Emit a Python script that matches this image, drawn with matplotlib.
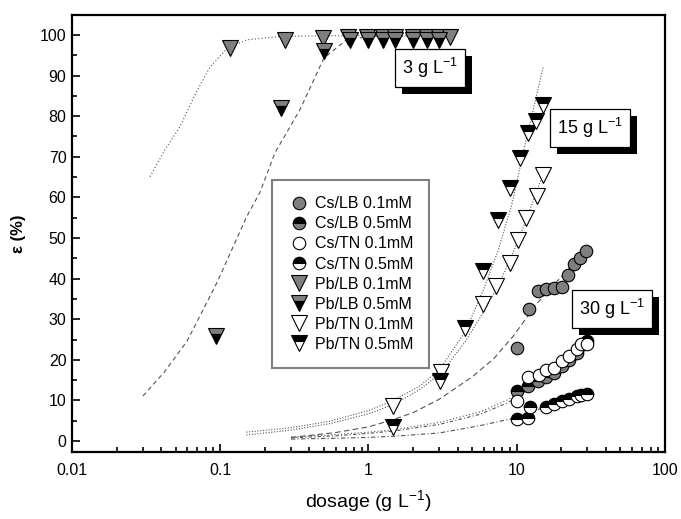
import matplotlib
matplotlib.use("Agg")
import matplotlib.pyplot as plt
import matplotlib.transforms as mtransforms
from matplotlib.patches import Rectangle
from matplotlib.lines import Line2D

plt.rcParams['font.family'] = ['Liberation Sans', 'DejaVu Sans']
plt.rcParams['mathtext.fontset'] = 'custom'
plt.rcParams['mathtext.rm'] = 'Liberation Sans'
plt.rcParams['mathtext.it'] = 'Liberation Sans:italic'
plt.rcParams['mathtext.bf'] = 'Liberation Sans:bold'

GRAY = '#7f7f7f'

# --- measured points -------------------------------------------------------
# Cs at 30 g/L
cs_lb_01_x = [10.0, 12.1, 13.9, 15.8, 17.9, 20.1, 22.3, 24.2, 26.8, 29.5]
cs_lb_01_y = [22.9, 32.6, 36.9, 37.5, 37.8, 38.0, 41.0, 43.5, 45.1, 46.8]
cs_lb_05_x = [10.0, 12.0, 14.0, 15.8, 17.9, 20.1, 22.5, 25.3, 27.3, 29.9]
cs_lb_05_y = [12.4, 13.6, 14.8, 15.8, 16.8, 18.6, 20.0, 21.8, 23.6, 24.6]
cs_tn_01_x = [10.0, 12.0, 14.2, 15.8, 17.9, 20.1, 22.5, 25.3, 27.3, 29.9]
cs_tn_01_y = [9.9, 15.9, 16.2, 17.5, 18.1, 19.7, 21.0, 22.6, 23.8, 23.8]
cs_tn_05_x = [10.0, 12.0, 12.2, 15.8, 17.9, 20.1, 22.5, 25.3, 27.3, 29.9]
cs_tn_05_y = [5.4, 5.8, 8.3, 8.3, 9.1, 9.9, 10.3, 11.1, 11.4, 11.6]

# Pb at 3 g/L
pb_lb_01_x = [0.116, 0.273, 0.49, 0.73, 0.98, 1.25, 1.5, 2.0, 2.5, 3.0, 3.55]
pb_lb_01_y = [96.8, 98.8, 99.3, 99.6, 99.6, 99.6, 99.6, 99.6, 99.6, 99.6, 99.6]
pb_lb_05_x = [0.094, 0.257, 0.50, 0.75, 1.0, 1.25, 1.5, 2.0, 2.5, 3.0]
pb_lb_05_y = [25.8, 82.1, 96.1, 98.8, 98.8, 98.8, 98.8, 98.8, 98.8, 98.8]

# Pb at 15 g/L
pb_tn_01_x = [1.46, 3.1, 5.9, 7.3, 8.98, 10.2, 11.6, 13.6, 15.1]
pb_tn_01_y = [8.7, 16.9, 33.7, 38.2, 43.9, 49.6, 55.0, 60.3, 65.6]
pb_tn_05_x = [1.47, 3.04, 4.48, 5.94, 7.5, 9.0, 10.5, 12.0, 13.5, 15.1]
pb_tn_05_y = [3.4, 14.8, 27.9, 41.8, 54.5, 62.3, 69.7, 75.8, 78.7, 82.8]

# --- fitted curves ---------------------------------------------------------
fit_pb_lb_01_x = [0.0336, 0.042, 0.0535, 0.068, 0.0853, 0.11, 0.151, 0.25, 0.5, 1.0, 3.6]
fit_pb_lb_01_y = [65.1, 71.5, 77.4, 85.5, 92.1, 96.5, 98.8, 99.6, 99.8, 99.8, 99.8]
fit_pb_lb_05_x = [0.0301, 0.042, 0.0597, 0.095, 0.151, 0.185, 0.234, 0.345, 0.50, 0.71, 1.0, 3.0]
fit_pb_lb_05_y = [11.1, 17.0, 24.6, 39.0, 55.3, 61.2, 71.0, 81.6, 94.3, 98.8, 99.6, 99.8]

fit_pb_tn_05_x = [0.15, 0.3, 0.55, 1.0, 1.47, 2.2, 3.0, 4.5, 6.0, 7.5, 9.2, 11.7, 15.1]
fit_pb_tn_05_y = [2.2, 3.3, 4.9, 7.5, 10.0, 13.5, 17.5, 27.0, 37.5, 47.0, 57.8, 75.0, 92.1]
fit_pb_tn_01_x = [0.15, 0.3, 0.55, 1.0, 1.47, 2.2, 3.1, 4.5, 5.9, 7.3, 9.0, 11.6, 15.1]
fit_pb_tn_01_y = [1.5, 2.7, 4.3, 6.7, 9.0, 12.6, 16.8, 24.5, 31.5, 37.5, 44.5, 54.5, 66.0]

fit_cs_lb_01_x = [0.3, 0.6, 1.0, 1.47, 2.0, 3.0, 5.0, 7.0, 9.5, 13.6, 20.0, 30.0]
fit_cs_lb_01_y = [0.9, 2.1, 3.5, 5.3, 7.0, 10.3, 15.8, 20.3, 25.9, 33.8, 40.5, 47.2]
fit_cs_tn_01_x = [0.3, 0.6, 1.0, 1.5, 3.0, 5.65, 8.5, 10.0, 15.0, 20.0, 30.0]
fit_cs_tn_01_y = [1.0, 1.6, 2.2, 2.8, 4.6, 7.2, 10.0, 11.4, 16.5, 19.8, 24.6]
fit_cs_lb_05_x = [0.3, 0.6, 1.0, 1.5, 3.0, 5.65, 8.5, 10.0, 15.0, 20.0, 30.0]
fit_cs_lb_05_y = [0.8, 1.3, 1.9, 2.5, 4.1, 6.6, 9.3, 10.6, 15.6, 19.2, 24.4]
fit_cs_tn_05_x = [0.3, 0.6, 1.0, 1.5, 3.0, 5.65, 10.0, 15.0, 20.0, 30.0]
fit_cs_tn_05_y = [0.5, 0.7, 0.9, 1.2, 2.0, 3.8, 5.8, 8.2, 9.8, 11.8]

labels = ['Cs/LB 0.1mM', 'Cs/LB 0.5mM', 'Cs/TN 0.1mM', 'Cs/TN 0.5mM',
          'Pb/LB 0.1mM', 'Pb/LB 0.5mM', 'Pb/TN 0.1mM', 'Pb/TN 0.5mM']

fig = plt.figure(figsize=(6.81, 5.19), dpi=100)
ax = fig.add_axes([0.1057, 0.129, 0.8708, 0.842])

# fitted lines go underneath the markers
line_kw = dict(color='#555555', lw=0.8, zorder=1)
ax.plot(fit_pb_lb_01_x, fit_pb_lb_01_y, ls=(0, (1, 2)), **line_kw)
ax.plot(fit_pb_lb_05_x, fit_pb_lb_05_y, ls=(0, (4, 3)), **line_kw)
ax.plot(fit_pb_tn_05_x, fit_pb_tn_05_y, ls=(0, (1, 1.5)), **line_kw)
ax.plot(fit_pb_tn_01_x, fit_pb_tn_01_y, ls=(0, (1, 1.5)), **line_kw)
ax.plot(fit_cs_lb_01_x, fit_cs_lb_01_y, ls=(0, (5, 3)), **line_kw)
ax.plot(fit_cs_tn_01_x, fit_cs_tn_01_y, ls=(0, (1, 2)), **line_kw)
ax.plot(fit_cs_lb_05_x, fit_cs_lb_05_y, ls=(0, (3, 2, 1, 2)), **line_kw)
ax.plot(fit_cs_tn_05_x, fit_cs_tn_05_y, ls=(0, (4, 2, 1, 2)), **line_kw)

circ = dict(marker='o', ms=9, mec='black', mew=0.8, ls='none', zorder=3)
tri = dict(marker='v', ms=11.5, mec='black', mew=0.8, ls='none', zorder=3)

styles = [
    dict(circ, mfc=GRAY),
    dict(circ, mfc='black', mfcalt=GRAY, fillstyle='top'),
    dict(circ, mfc='white'),
    dict(circ, mfc='black', mfcalt='white', fillstyle='top'),
    dict(tri, mfc=GRAY),
    dict(tri, mfc=GRAY, mfcalt='black', fillstyle='top'),
    dict(tri, mfc='white'),
    dict(tri, mfc='black', mfcalt='white', fillstyle='top'),
]
series = [
    (cs_lb_01_x, cs_lb_01_y), (cs_lb_05_x, cs_lb_05_y),
    (cs_tn_01_x, cs_tn_01_y), (cs_tn_05_x, cs_tn_05_y),
    (pb_lb_01_x, pb_lb_01_y), (pb_lb_05_x, pb_lb_05_y),
    (pb_tn_01_x, pb_tn_01_y), (pb_tn_05_x, pb_tn_05_y),
]
handles = []
for (xs, ys), st, lab in zip(series, styles, labels):
    kw = dict(st)
    if 'mfcalt' in kw:
        kw['markerfacecoloralt'] = kw.pop('mfcalt')
    ax.plot(xs, ys, **kw)
    handles.append(Line2D([], [], label=lab, **kw))

ax.set_xscale('log')
ax.set_xlim(0.01, 100)
ax.set_ylim(-2.7, 104.9)
ax.set_yticks(range(0, 101, 10))
ax.set_yticks(range(5, 101, 10), minor=True)
ax.set_xticks([0.01, 0.1, 1, 10, 100])
ax.set_xticklabels(['0.01', '0.1', '1', '10', '100'])
ax.tick_params(which='both', direction='in', top=False, right=False,
               labelsize=11.5, width=1.2)
ax.tick_params(which='major', length=6, pad=8)
ax.tick_params(which='minor', length=3.5)
ax.tick_params(axis='y', which='major', pad=4)
for sp in ax.spines.values():
    sp.set_linewidth(1.6)

ax.set_xlabel('dosage (g L$^{-1}$)', fontsize=14, labelpad=7)
ax.set_ylabel('ε (%)', fontsize=12, fontweight='bold', labelpad=10)

leg = ax.legend(handles=handles, loc='upper left',
                bbox_to_anchor=(0.337, 0.622), fontsize=11.5,
                frameon=True, fancybox=False, framealpha=1,
                handletextpad=0.3, labelspacing=0.32, borderpad=1.0,
                handlelength=1.4, borderaxespad=0)
leg.get_frame().set_edgecolor(GRAY)
leg.get_frame().set_linewidth(1.5)

# concentration tags, each with a black drop shadow
tags = [('3 g L$^{-1}$', 0.604, 0.879), ('15 g L$^{-1}$', 0.873, 0.741),
        ('30 g L$^{-1}$', 0.911, 0.328)]
tag_texts = []
for txt, x, y in tags:
    t = ax.text(x, y, txt, transform=ax.transAxes, fontsize=13, ha='center',
                va='center', zorder=7,
                bbox=dict(boxstyle='square,pad=0.38', fc='white', ec='black', lw=0.9))
    tag_texts.append(t)

fig.canvas.draw()
renderer = fig.canvas.get_renderer()
for t in tag_texts:
    bb = t.get_bbox_patch().get_window_extent(renderer)
    ax.add_patch(Rectangle((bb.x0 + 7, bb.y0 - 7), bb.width, bb.height,
                           transform=mtransforms.IdentityTransform(),
                           fc='black', ec='none', zorder=5, clip_on=False))

fig.savefig('out.png', dpi=100)
